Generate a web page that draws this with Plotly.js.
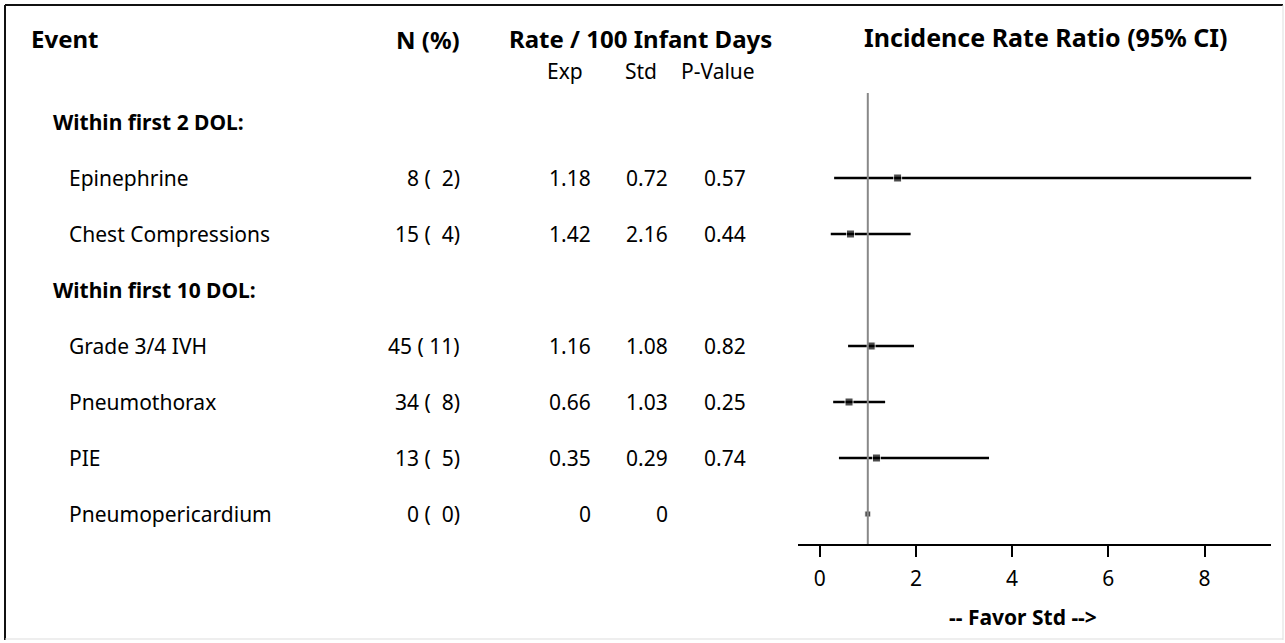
<!DOCTYPE html>
<html>
<head>
<meta charset="utf-8">
<script src="https://cdn.plot.ly/plotly-3.0.1.min.js"></script>
<style>html,body{margin:0;padding:0;background:#fff;}#chart{width:1285px;height:643px;}</style>
</head>
<body>
<div id="chart"></div>
<script>
// ---- data ----
const rowLabels = ["Within first 2 DOL:", "Epinephrine", "Chest Compressions", "Within first 10 DOL:", "Grade 3/4 IVH", "Pneumothorax", "PIE", "Pneumopericardium"];
const isGroup = [true, false, false, true, false, false, false, false];
const nCount = [null, 8, 15, null, 45, 34, 13, 0];
const nPct = [null, 2, 4, null, 11, 8, 5, 0];
const expRate = [null, 1.18, 1.42, null, 1.16, 0.66, 0.35, 0];
const stdRate = [null, 0.72, 2.16, null, 1.08, 1.03, 0.29, 0];
const pValue = [null, 0.57, 0.44, null, 0.82, 0.25, 0.74, null];
const irr = [null, 1.62, 0.64, null, 1.07, 0.61, 1.18, 1.0];
const ciLow = [null, 0.30, 0.23, null, 0.59, 0.28, 0.40, null];
const ciHigh = [null, 8.97, 1.89, null, 1.96, 1.36, 3.52, null];
const xTicks = [0, 2, 4, 6, 8];
const refValue = 1;

// ---- layout helpers ----
const W = 1285, H = 643;
const px = v => v / W;
const py = v => 1 - v / H;
const rowIdx = rowLabels.map((_, i) => i);
const fmt = v => (v === 0 ? "0" : v.toFixed(2));
const NB = "\u00a0";
const fmtN = (n, p) => n + NB + "(" + String(p).padStart(3, NB) + ")";

const FAM = "Noto Sans, Open Sans, DejaVu Sans, sans-serif";
const bodyFont = {family: FAM, size: 21, color: "#000"};
const headFont = {family: FAM, size: 24, color: "#000"};
const bigHeadFont = {family: FAM, size: 25, color: "#000"};
const ann = (text, x, y, yref, xanchor, font) => ({text, x, y, xref: "paper", yref, xanchor, yanchor: "middle", showarrow: false, font});

const annotations = [];
// column headers
annotations.push(ann("<b>Event</b>", px(29), py(39), "paper", "left", headFont));
annotations.push(ann("<b>N (%)</b>", px(462), py(40), "paper", "right", headFont));
annotations.push(ann("<b>Rate / 100 Infant Days</b>", px(640), py(39), "paper", "center", headFont));
annotations.push(ann("<b>Incidence Rate Ratio (95% CI)</b>", px(1046), py(37), "paper", "center", bigHeadFont));
annotations.push(ann("Exp", px(565), py(71), "paper", "center", bodyFont));
annotations.push(ann("Std", px(641), py(71), "paper", "center", bodyFont));
annotations.push(ann("P-Value", px(718), py(71), "paper", "center", bodyFont));

rowIdx.forEach(i => {
  if (isGroup[i]) {
    annotations.push(ann("<b>" + rowLabels[i] + "</b>", px(51), i, "y", "left", bodyFont));
    return;
  }
  annotations.push(ann(rowLabels[i], px(67), i, "y", "left", bodyFont));
  if (nCount[i] !== null) annotations.push(ann(fmtN(nCount[i], nPct[i]), px(462), i, "y", "right", bodyFont));
  if (expRate[i] !== null) annotations.push(ann(fmt(expRate[i]), px(593), i, "y", "right", bodyFont));
  if (stdRate[i] !== null) annotations.push(ann(fmt(stdRate[i]), px(670), i, "y", "right", bodyFont));
  if (pValue[i] !== null) annotations.push(ann(fmt(pValue[i]), px(748), i, "y", "right", bodyFont));
});

// x-axis caption under the forest plot
annotations.push(ann("<b>-- Favor Std --></b>", px(1023), py(617), "paper", "center", bodyFont));

// forest plot trace
const plusErr = irr.map((v, i) => (v === null || ciHigh[i] === null) ? 0 : ciHigh[i] - v);
const minusErr = irr.map((v, i) => (v === null || ciLow[i] === null) ? 0 : v - ciLow[i]);
const markerSizes = irr.map((v, i) => (ciLow[i] === null ? 6 : 8));

const trace = {
  type: "scatter", mode: "markers",
  x: irr, y: rowIdx,
  marker: {symbol: "square", size: markerSizes, color: "#000"},
  error_x: {type: "data", symmetric: false, array: plusErr, arrayminus: minusErr, width: 0, thickness: 2.5, color: "#000"},
  hoverinfo: "skip", showlegend: false, cliponaxis: false
};

// plot area in pixels
const axLeft = 798, axRight = 1271, axTop = 93, axBottom = 544;
const rowTop = 122, rowStep = 56;
const x0px = 819.7, unitPx = 48.1;

const layout = {
  width: W, height: H,
  margin: {l: 0, r: 0, t: 0, b: 0},
  paper_bgcolor: "#fff", plot_bgcolor: "#fff",
  showlegend: false,
  xaxis: {
    domain: [px(axLeft), px(axRight)],
    range: [(axLeft - x0px) / unitPx, (axRight - x0px) / unitPx],
    tickvals: xTicks, ticktext: xTicks.map(String),
    showgrid: false, zeroline: false,
    showline: true, linecolor: "#000", linewidth: 2,
    ticks: "outside", ticklen: 11, tickwidth: 2, tickcolor: "#000",
    ticklabelstandoff: 4,
    tickfont: {family: FAM, size: 21, color: "#000"},
    fixedrange: true
  },
  yaxis: {
    domain: [py(axBottom), py(axTop)],
    range: [(axBottom - rowTop) / rowStep, (axTop - rowTop) / rowStep],
    showgrid: false, zeroline: false, showline: false, showticklabels: false, ticks: "",
    fixedrange: true
  },
  annotations: annotations,
  shapes: [
    {type: "line", xref: "x", yref: "paper", x0: refValue, x1: refValue, y0: py(axBottom), y1: py(axTop), line: {color: "#888", width: 2}, layer: "above"},
    {type: "line", xref: "paper", yref: "paper", x0: px(5), x1: px(5), y0: py(5), y1: py(640), line: {color: "#111", width: 2}},
    {type: "line", xref: "paper", yref: "paper", x0: px(5), x1: px(1283), y0: py(5), y1: py(5), line: {color: "#111", width: 2}},
    {type: "line", xref: "paper", yref: "paper", x0: px(1283), x1: px(1283), y0: py(5), y1: py(640), line: {color: "#ddd", width: 1}},
    {type: "line", xref: "paper", yref: "paper", x0: px(5), x1: px(1283), y0: py(639), y1: py(639), line: {color: "#ddd", width: 1}}
  ]
};

Plotly.newPlot("chart", [trace], layout, {staticPlot: true, displayModeBar: false});
</script>
</body>
</html>
